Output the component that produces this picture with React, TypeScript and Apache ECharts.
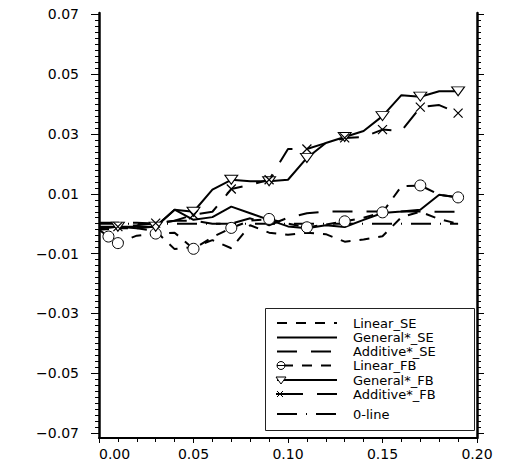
import React, { useEffect, useRef } from "react";
import * as echarts from "echarts";

const xValues = [0.0, 0.01, 0.02, 0.03, 0.04, 0.05, 0.06, 0.07, 0.08, 0.09, 0.1, 0.11, 0.12, 0.13, 0.14, 0.15, 0.16, 0.17, 0.18, 0.19];
const linearFBX = [0.0, 0.005, 0.01, 0.02, 0.03, 0.04, 0.05, 0.06, 0.07, 0.08, 0.09, 0.1, 0.11, 0.12, 0.13, 0.14, 0.15, 0.16, 0.17, 0.18, 0.19];

const linearSE = [-0.002, -0.0015, -0.0015, -0.0025, -0.0085, -0.0078, -0.0055, -0.0082, -0.0005, -0.003, -0.0037, -0.003, -0.0035, -0.006, -0.0053, -0.0042, 0.0022, 0.004, 0.0015, 0.0];
const generalSE = [-0.0015, -0.001, -0.0015, -0.0009, 0.0047, 0.0013, 0.0022, 0.0057, 0.0035, 0.0013, -0.0009, -0.0015, -0.0005, -0.0011, 0.0013, 0.0036, 0.0041, 0.0047, 0.0097, 0.0088];
const additiveSE = [0.0003, 0.0003, 0.0003, 0.0, 0.001, 0.001, 0.0, 0.0, 0.0018, -0.0005, 0.002, 0.0035, 0.0041, 0.0041, 0.0041, 0.0041, 0.0041, 0.0041, 0.004, 0.004];
const linearFB = [-0.002, -0.0043, -0.0065, -0.004, -0.0033, -0.003, -0.0084, -0.0045, -0.0014, 0.001, 0.0016, 0.0, -0.0012, -0.0003, 0.0008, 0.002, 0.0038, 0.0125, 0.0128, 0.0097, 0.0088];
const generalFB = [-0.001, -0.001, -0.001, -0.001, 0.0047, 0.004, 0.0114, 0.0147, 0.0142, 0.0142, 0.0147, 0.022, 0.027, 0.029, 0.031, 0.036, 0.043, 0.0425, 0.0443, 0.0443];
const additiveFB = [-0.0015, -0.001, -0.0005, 0.0002, 0.001, 0.003, 0.004, 0.0116, 0.013, 0.0147, 0.025, 0.025, 0.027, 0.0287, 0.029, 0.0315, 0.031, 0.039, 0.0397, 0.037];
const zeroX = [0.0, 0.19];
const zeroLine = [0.0, 0.0];

const yMajorTicks = [-0.07, -0.05, -0.03, -0.01, 0.01, 0.03, 0.05, 0.07];
const xTickLabels = [0.0, 0.05, 0.1, 0.15, 0.2];

const seriesNames = ["Linear_SE", "General*_SE", "Additive*_SE", "Linear_FB", "General*_FB", "Additive*_FB", "0-line"];

const FONT = "DejaVu Sans";
const SHORT_DASH = [10, 9];
const LONG_DASH = [20, 14];
const DASH_DOT = [20, 9, 1, 9];
const CROSS = "path://M0,0L10,10M10,0L0,10";

function isMarked(x: number) {
  const k = Math.round(x * 1000);
  return k === 5 || k % 20 === 10;
}

function pts(xs: number[], ys: number[], marked: boolean) {
  return xs.map((x, i) => {
    if (!marked || isMarked(x)) return [x, ys[i]];
    return { value: [x, ys[i]], symbol: "none" };
  });
}

const yMinorTicks: number[] = [];
for (let k = -35; k <= 35; k++) yMinorTicks.push(k * 0.002);

function buildLegend() {
  const left = 265;
  const top = 308;
  const w = 209;
  const h = 122;
  const rows = [323, 337.5, 351.5, 365.5, 380, 394, 414];
  const lx0 = 277;
  const lx1 = 337;
  const tx = 353;
  const dashes: any[] = [SHORT_DASH, null, LONG_DASH, SHORT_DASH, null, LONG_DASH, DASH_DOT];
  const children: any[] = [
    {
      type: "rect",
      shape: { x: left + 0.5, y: top + 0.5, width: w, height: h },
      style: { fill: "#fff", stroke: "#222", lineWidth: 1 },
    },
  ];
  seriesNames.forEach((name, i) => {
    const y = rows[i];
    const style: any = { stroke: "#000", lineWidth: 2 };
    if (dashes[i]) style.lineDash = dashes[i];
    children.push({
      type: "line",
      shape: { x1: i === 3 || i === 5 ? lx0 + 6 : lx0, y1: y, x2: lx1, y2: y },
      style,
    });
    children.push({
      type: "text",
      x: tx,
      y,
      style: { text: name, fontFamily: FONT, fontSize: 13, fill: "#000", verticalAlign: "middle", align: "left" },
    });
  });
  children.push({
    type: "circle",
    shape: { cx: 281, cy: rows[3], r: 4 },
    style: { fill: "#fff", stroke: "#000", lineWidth: 1 },
    z2: 5,
  });
  children.push({
    type: "line",
    shape: { x1: 277, y1: rows[3], x2: 285, y2: rows[3] },
    style: { stroke: "#000", lineWidth: 1 },
    z2: 6,
  });
  children.push({
    type: "polygon",
    shape: { points: [[276, rows[4] - 3], [286, rows[4] - 3], [281, rows[4] + 4]] },
    style: { fill: "#fff", stroke: "#000", lineWidth: 1 },
    z2: 5,
  });
  children.push({
    type: "line",
    shape: { x1: 277, y1: rows[5] - 3, x2: 283, y2: rows[5] + 3 },
    style: { stroke: "#000", lineWidth: 1 },
  });
  children.push({
    type: "line",
    shape: { x1: 277, y1: rows[5] + 3, x2: 283, y2: rows[5] - 3 },
    style: { stroke: "#000", lineWidth: 1 },
  });
  children.push({
    type: "line",
    shape: { x1: 276, y1: rows[5], x2: 294, y2: rows[5] },
    style: { stroke: "#000", lineWidth: 2 },
  });
  return [{ type: "group", z: 20, children }];
}

export default function App() {
  const ref = useRef<HTMLDivElement>(null);
  useEffect(() => {
    if (!ref.current) return;
    const chart = echarts.init(ref.current, null, { renderer: "svg" });
    const yMin = -0.0717;
    const yMax = 0.0705;
    const lineBase = { type: "line", animation: false, yAxisIndex: 0, xAxisIndex: 0, z: 3 };
    const yAxisCommon = {
      type: "value",
      min: yMin,
      max: yMax,
      splitLine: { show: false },
    };
    chart.setOption({
      animation: false,
      backgroundColor: "#ffffff",
      grid: { left: 99, right: 30, top: 13, bottom: 32, containLabel: false },
      graphic: buildLegend(),
      xAxis: {
        type: "value",
        min: 0,
        max: 0.2,
        interval: 0.05,
        axisLine: { show: true, onZero: false, lineStyle: { color: "#000", width: 2 } },
        axisTick: { show: true, length: 5, lineStyle: { color: "#000", width: 1 } },
        minorTick: { show: true, splitNumber: 5, length: 4, lineStyle: { color: "#000", width: 1 } },
        splitLine: { show: false },
        axisLabel: {
          show: true,
          margin: 9,
          color: "#000",
          fontFamily: FONT,
          fontSize: 14,
          alignMinLabel: "left",
          formatter: (v: number) => (xTickLabels.some((t) => Math.abs(t - v) < 1e-9) ? v.toFixed(2) : ""),
        },
      },
      yAxis: [
        {
          ...yAxisCommon,
          position: "left",
          axisLine: { show: true, onZero: false, lineStyle: { color: "#000", width: 2.5 } },
          axisTick: { show: true, length: 8, customValues: yMajorTicks, lineStyle: { color: "#000", width: 1 } },
          axisLabel: {
            show: true,
            margin: 20,
            color: "#000",
            fontFamily: FONT,
            fontSize: 14,
            customValues: yMajorTicks,
            formatter: (v: number) => (v < 0 ? "\u2212" + Math.abs(v).toFixed(2) : v.toFixed(2)),
          },
        },
        {
          ...yAxisCommon,
          position: "left",
          axisLine: { show: false },
          axisTick: { show: true, length: 4, customValues: yMinorTicks, lineStyle: { color: "#000", width: 1 } },
          axisLabel: { show: false },
        },
        {
          ...yAxisCommon,
          position: "right",
          axisLine: { show: true, onZero: false, lineStyle: { color: "#000", width: 2.5 } },
          axisTick: { show: true, length: 7, customValues: yMajorTicks, lineStyle: { color: "#000", width: 1 } },
          axisLabel: { show: false },
        },
        {
          ...yAxisCommon,
          position: "right",
          axisLine: { show: false },
          axisTick: { show: true, length: 4, customValues: yMinorTicks, lineStyle: { color: "#000", width: 1 } },
          axisLabel: { show: false },
        },
      ],
      series: [
        {
          ...lineBase,
          name: seriesNames[0],
          data: pts(xValues, linearSE, false),
          symbol: "none",
          lineStyle: { color: "#000", width: 2, type: SHORT_DASH },
        },
        {
          ...lineBase,
          name: seriesNames[1],
          data: pts(xValues, generalSE, false),
          symbol: "none",
          lineStyle: { color: "#000", width: 2, type: "solid" },
        },
        {
          ...lineBase,
          name: seriesNames[2],
          data: pts(xValues, additiveSE, false),
          symbol: "none",
          lineStyle: { color: "#000", width: 2, type: LONG_DASH },
        },
        {
          ...lineBase,
          name: seriesNames[3],
          data: pts(linearFBX, linearFB, true),
          symbol: "circle",
          symbolSize: 11,
          lineStyle: { color: "#000", width: 2, type: SHORT_DASH },
          itemStyle: { color: "#fff", borderColor: "#000", borderWidth: 1 },
        },
        {
          ...lineBase,
          name: seriesNames[4],
          data: pts(xValues, generalFB, true),
          symbol: "triangle",
          symbolRotate: 180,
          symbolSize: [13, 9],
          lineStyle: { color: "#000", width: 2, type: "solid" },
          itemStyle: { color: "#fff", borderColor: "#000", borderWidth: 1 },
        },
        {
          ...lineBase,
          name: seriesNames[5],
          data: pts(xValues, additiveFB, true),
          symbol: CROSS,
          symbolSize: 9,
          lineStyle: { color: "#000", width: 2, type: LONG_DASH },
          itemStyle: { color: "#fff", borderColor: "#000", borderWidth: 1.2 },
        },
        {
          ...lineBase,
          name: seriesNames[6],
          data: pts(zeroX, zeroLine, false),
          symbol: "none",
          lineStyle: { color: "#000", width: 2, type: DASH_DOT },
          z: 2,
        },
      ],
    });
    return () => chart.dispose();
  }, []);
  return <div ref={ref} style={{ position: "absolute", left: 0, top: 0, width: 507, height: 470 }} />;
}
